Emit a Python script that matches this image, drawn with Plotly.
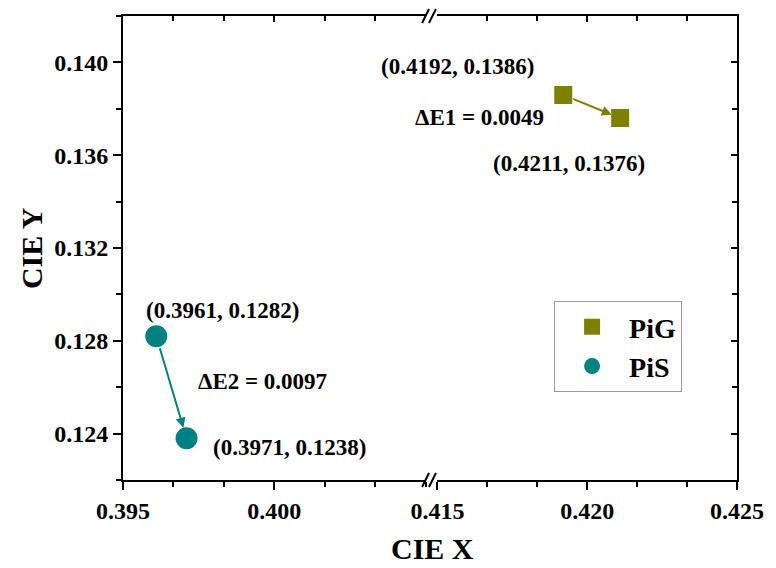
import plotly.graph_objects as go

# ---- data ----
series_names = ["PiG", "PiS"]
pig_x = [0.4192, 0.4211]
pig_y = [0.1386, 0.1376]
pis_x = [0.3961, 0.3971]
pis_y = [0.1282, 0.1238]
delta_labels = ["ΔE1 = 0.0049", "ΔE2 = 0.0097"]
x_left_ticks = [0.395, 0.400]
x_left_text = ["0.395", "0.400"]
x_right_ticks = [0.415, 0.420, 0.425]
x_right_text = ["0.415", "0.420", "0.425"]
y_ticks = [0.124, 0.128, 0.132, 0.136, 0.140]
y_text = ["0.124", "0.128", "0.132", "0.136", "0.140"]

OLIVE = "#808000"
TEAL = "#008080"
FONT = "Liberation Serif"

W, H = 776, 568
L, R, T, B = 123, 32, 16, 88
PW = W - L - R
PH = H - T - B

def px2x(px):
    return (px - L) / PW

def px2y(py):
    return (H - B - py) / PH

def bold(lst):
    return [f"<b>{s}</b>" for s in lst]

dom_left = [0, px2x(429)]
dom_right = [px2x(441), 1]

fig = go.Figure()

fig.add_trace(go.Scatter(
    x=pig_x, y=pig_y, mode="markers", name=f"<b>{series_names[0]}</b>",
    xaxis="x2", yaxis="y",
    marker=dict(symbol="square", size=18, color=OLIVE),
))
fig.add_trace(go.Scatter(
    x=pis_x, y=pis_y, mode="markers", name=f"<b>{series_names[1]}</b>",
    xaxis="x", yaxis="y",
    marker=dict(symbol="circle", size=22, color=TEAL),
))
# invisible traces for frame axes
fig.add_trace(go.Scatter(x=[None], y=[None], xaxis="x3", yaxis="y", showlegend=False, hoverinfo="skip"))
fig.add_trace(go.Scatter(x=[None], y=[None], xaxis="x4", yaxis="y", showlegend=False, hoverinfo="skip"))
fig.add_trace(go.Scatter(x=[None], y=[None], xaxis="x", yaxis="y2", showlegend=False, hoverinfo="skip"))

tickfont = dict(family=FONT, size=24, color="black")
minor_x = dict(dtick=0.005 / 3, tick0=0.395, ticklen=5, tickwidth=2, tickcolor="black", ticks="outside")
minor_x_in = dict(dtick=0.005 / 3, tick0=0.395, ticklen=5, tickwidth=2, tickcolor="black", ticks="inside")

common_x = dict(showgrid=False, zeroline=False, showline=True, linecolor="black", linewidth=2,
                ticks="outside", ticklen=8, tickwidth=2, tickcolor="black", tickfont=tickfont)

fig.update_layout(
    xaxis=dict(domain=dom_left, range=[0.395, 0.405], anchor="y",
               tickmode="array", tickvals=x_left_ticks, ticktext=bold(x_left_text),
               minor=minor_x, **common_x),
    xaxis2=dict(domain=dom_right, range=[0.415, 0.425], anchor="y",
                tickmode="array", tickvals=x_right_ticks, ticktext=bold(x_right_text),
                minor=dict(minor_x, tick0=0.415), **common_x),
    xaxis3=dict(domain=dom_left, range=[0.395, 0.405], anchor="y", overlaying="x", side="top",
                showgrid=False, zeroline=False, showline=True, linecolor="black", linewidth=2,
                ticks="inside", ticklen=6, tickwidth=2, tickcolor="black",
                tickmode="array", tickvals=x_left_ticks, showticklabels=False, minor=minor_x_in),
    xaxis4=dict(domain=dom_right, range=[0.415, 0.425], anchor="y", overlaying="x2", side="top",
                showgrid=False, zeroline=False, showline=True, linecolor="black", linewidth=2,
                ticks="inside", ticklen=6, tickwidth=2, tickcolor="black",
                tickmode="array", tickvals=x_right_ticks, showticklabels=False,
                minor=dict(minor_x_in, tick0=0.415)),
    yaxis=dict(range=[0.122, 0.142], anchor="x", showgrid=False, zeroline=False,
               showline=True, linecolor="black", linewidth=2,
               ticks="outside", ticklen=8, tickwidth=2, tickcolor="black",
               tickmode="array", tickvals=y_ticks, ticktext=bold(y_text), tickfont=tickfont,
               minor=dict(dtick=0.002, tick0=0.122, ticklen=5, tickwidth=2, tickcolor="black", ticks="outside")),
    yaxis2=dict(range=[0.122, 0.142], anchor="x2", overlaying="y", side="right",
                showgrid=False, zeroline=False, showline=True, linecolor="black", linewidth=2,
                ticks="inside", ticklen=6, tickwidth=2, tickcolor="black",
                tickmode="array", tickvals=y_ticks, showticklabels=False,
                minor=dict(dtick=0.002, tick0=0.122, ticklen=5, tickwidth=2, tickcolor="black", ticks="inside")),
    width=W, height=H,
    margin=dict(l=L, r=R, t=T, b=B),
    plot_bgcolor="white", paper_bgcolor="white",
    showlegend=True,
    legend=dict(x=px2x(559), y=px2y(301), xanchor="left", yanchor="top",
                bordercolor="#9a9a9a", borderwidth=1, bgcolor="white",
                font=dict(family=FONT, size=28, color="black"),
                itemsizing="trace", itemwidth=64, tracegroupgap=0),
)

afont = dict(family=FONT, size=23, color="black")
ann = []
# arrows
ann.append(dict(x=pig_x[1], y=pig_y[1], xref="x2", yref="y", ax=pig_x[0], ay=pig_y[0],
                axref="x2", ayref="y", showarrow=True, arrowhead=2, arrowsize=1, arrowwidth=2,
                arrowcolor=OLIVE, standoff=9, startstandoff=9, text=""))
ann.append(dict(x=pis_x[1], y=pis_y[1], xref="x", yref="y", ax=pis_x[0], ay=pis_y[0],
                axref="x", ayref="y", showarrow=True, arrowhead=2, arrowsize=1, arrowwidth=2,
                arrowcolor=TEAL, standoff=11, startstandoff=11, text=""))
# point labels
def lab(x, y, xr, txt, dx, dy):
    return dict(x=x, y=y, xref=xr, yref="y", text=f"<b>{txt}</b>", showarrow=False, font=afont,
                xanchor="center", yanchor="middle", xshift=dx, yshift=dy)

ann.append(lab(pig_x[0], pig_y[0], "x2", f"({pig_x[0]:.4f}, {pig_y[0]:.4f})", -106, 28))
ann.append(lab(pig_x[1], pig_y[1], "x2", f"({pig_x[1]:.4f}, {pig_y[1]:.4f})", -51, -45))
ann.append(lab(pig_x[0], pig_y[0], "x2", delta_labels[0], -84, -23))
ann.append(lab(pis_x[0], pis_y[0], "x", f"({pis_x[0]:.4f}, {pis_y[0]:.4f})", 66, 26))
ann.append(lab(pis_x[1], pis_y[1], "x", f"({pis_x[1]:.4f}, {pis_y[1]:.4f})", 103, -9))
ann.append(lab(pis_x[0], pis_y[0], "x", delta_labels[1], 106, -45))
# axis titles
tfont = dict(family=FONT, size=30, color="black")
ann.append(dict(x=px2x(436), y=px2y(548), xref="paper", yref="paper", text="<b>CIE X</b>",
                showarrow=False, font=tfont, xanchor="center", yanchor="middle"))
ann.append(dict(x=px2x(30), y=px2y(248), xref="paper", yref="paper", text="<b>CIE Y</b>",
                showarrow=False, font=tfont, xanchor="center", yanchor="middle", textangle=-90))
fig.update_layout(annotations=ann)

# axis break marks
shapes = []
for py in (H - B, T):
    for cx in (429, 436):
        shapes.append(dict(type="line", xref="paper", yref="paper",
                           x0=px2x(cx - 3.5), y0=px2y(py + 7), x1=px2x(cx + 3.5), y1=px2y(py - 7),
                           line=dict(color="black", width=2)))
fig.update_layout(shapes=shapes)

fig.write_html("out.html")
